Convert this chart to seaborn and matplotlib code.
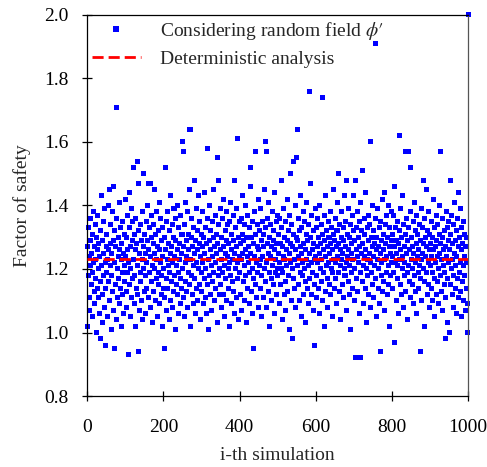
import numpy as np
import pandas as pd
import matplotlib
matplotlib.use("Agg")
import matplotlib.pyplot as plt
import seaborn as sns
from matplotlib.lines import Line2D

# ---- data (blocks of 50 simulations) ----
fos_0001_0050 = [1.27, 1.02, 1.18, 1.33, 1.24, 1.11, 1.07, 1.29, 1.36, 1.21,
                 1.15, 1.25, 1.31, 1.05, 1.19, 1.38, 1.22, 1.13, 1.27, 1.09,
                 1.34, 1.23, 1.17, 1.30, 1.00, 1.26, 1.14, 1.37, 1.20, 1.11,
                 1.28, 1.06, 1.24, 1.32, 1.16, 0.98, 1.21, 1.43, 1.12, 1.29,
                 1.03, 1.25, 1.35, 1.18, 1.08, 1.39, 1.22, 1.14, 0.96, 1.27]
fos_0051_0100 = [1.19, 1.31, 1.05, 1.23, 1.40, 1.16, 1.26, 1.45, 1.10, 1.28,
                 1.21, 1.34, 1.01, 1.18, 1.25, 1.38, 1.13, 1.29, 1.07, 1.46,
                 0.95, 1.22, 1.32, 1.15, 1.27, 1.04, 1.36, 1.71, 1.20, 1.11,
                 1.30, 1.24, 1.17, 1.41, 1.09, 1.26, 1.33, 1.14, 1.23, 1.02,
                 1.28, 1.19, 1.35, 1.12, 1.25, 1.06, 1.31, 1.21, 1.16, 1.42]
fos_0101_0150 = [1.24, 1.13, 1.30, 1.08, 1.37, 1.19, 1.26, 0.93, 1.22, 1.44,
                 1.15, 1.33, 1.05, 1.27, 1.20, 1.39, 1.11, 1.29, 1.17, 1.35,
                 1.52, 1.23, 1.09, 1.31, 1.18, 1.26, 1.02, 1.36, 1.14, 1.28,
                 1.54, 1.21, 1.12, 0.94, 1.32, 1.47, 1.25, 1.07, 1.19, 1.34,
                 1.16, 1.29, 1.10, 1.23, 1.38, 1.04, 1.50, 1.27, 1.20, 1.13]
fos_0151_0200 = [1.31, 1.18, 1.25, 1.06, 1.35, 1.22, 1.14, 1.29, 1.40, 1.47,
                 1.11, 1.26, 1.19, 1.33, 1.47, 1.08, 1.24, 1.30, 1.16, 1.37,
                 1.21, 1.03, 1.28, 1.13, 1.34, 1.20, 1.45, 1.25, 1.10, 1.31,
                 1.17, 1.38, 1.23, 1.05, 1.27, 1.15, 1.32, 1.19, 1.41, 1.09,
                 1.26, 1.22, 1.36, 1.12, 1.29, 1.18, 1.02, 1.33, 1.24, 1.14]
fos_0201_0250 = [1.20, 0.95, 1.30, 1.11, 1.26, 1.52, 1.17, 1.35, 1.07, 1.23,
                 1.38, 1.14, 1.28, 1.21, 1.04, 1.32, 1.19, 1.43, 1.25, 1.10,
                 1.27, 1.16, 1.34, 1.22, 1.08, 1.30, 1.13, 1.39, 1.24, 1.18,
                 1.01, 1.29, 1.36, 1.15, 1.21, 1.26, 1.12, 1.40, 1.19, 1.06,
                 1.33, 1.23, 1.28, 1.09, 1.17, 1.37, 1.25, 1.14, 1.31, 1.60]
fos_0251_0300 = [1.20, 1.11, 1.57, 1.27, 1.05, 1.34, 1.22, 1.16, 1.41, 1.29,
                 1.13, 1.24, 1.38, 1.08, 1.31, 1.19, 1.26, 1.45, 1.15, 1.64,
                 1.23, 1.02, 1.30, 1.18, 1.36, 1.12, 1.27, 1.21, 1.09, 1.33,
                 1.25, 1.48, 1.17, 1.29, 1.06, 1.39, 1.22, 1.14, 1.32, 1.26,
                 1.10, 1.43, 1.20, 1.28, 1.15, 1.35, 1.04, 1.24, 1.19, 1.31]
fos_0301_0350 = [1.13, 1.27, 1.22, 1.38, 1.09, 1.30, 1.17, 1.25, 1.44, 1.11,
                 1.33, 1.20, 1.06, 1.28, 1.58, 1.15, 1.36, 1.23, 1.01, 1.29,
                 1.18, 1.40, 1.26, 1.12, 1.32, 1.21, 1.07, 1.35, 1.24, 1.16,
                 1.30, 1.45, 1.19, 1.27, 1.10, 1.37, 1.22, 1.14, 1.31, 1.25,
                 1.55, 1.03, 1.28, 1.18, 1.34, 1.48, 1.20, 1.12, 1.26, 1.39]
fos_0351_0400 = [1.15, 1.23, 1.30, 1.08, 1.36, 1.19, 1.27, 1.12, 1.42, 1.21,
                 1.05, 1.32, 1.25, 1.17, 1.29, 1.38, 1.10, 1.24, 1.34, 1.20,
                 1.14, 1.28, 1.02, 1.35, 1.22, 1.18, 1.41, 1.26, 1.09, 1.31,
                 1.23, 1.16, 1.37, 1.29, 1.13, 1.25, 1.06, 1.48, 1.20, 1.33,
                 1.27, 1.11, 1.39, 1.22, 1.17, 1.61, 1.30, 1.04, 1.24, 1.35]
fos_0401_0450 = [1.19, 1.28, 1.12, 1.36, 1.23, 1.07, 1.31, 1.25, 1.43, 1.16,
                 1.29, 1.21, 1.34, 1.10, 1.26, 1.18, 1.40, 1.03, 1.30, 1.24,
                 1.14, 1.37, 1.22, 1.27, 1.09, 1.33, 1.19, 1.46, 1.25, 1.52,
                 1.13, 1.30, 1.20, 1.35, 1.06, 0.95, 1.28, 1.17, 1.24, 1.38,
                 1.57, 1.15, 1.31, 1.22, 1.11, 1.27, 1.34, 1.19, 1.42, 1.08]
fos_0451_0500 = [1.26, 1.21, 1.32, 1.14, 1.39, 1.23, 1.05, 1.29, 1.18, 1.35,
                 1.24, 1.11, 1.31, 1.27, 1.45, 1.20, 1.60, 1.16, 1.33, 1.57,
                 1.22, 1.08, 1.28, 1.36, 1.13, 1.25, 1.41, 1.19, 1.30, 1.02,
                 1.24, 1.34, 1.17, 1.27, 1.10, 1.38, 1.21, 1.29, 1.15, 1.32,
                 1.06, 1.26, 1.44, 1.19, 1.23, 1.35, 1.12, 1.28, 1.20, 1.37]
fos_0501_0550 = [1.18, 1.31, 1.25, 1.09, 1.36, 1.22, 1.15, 1.28, 1.48, 1.20,
                 1.33, 1.04, 1.27, 1.19, 1.39, 1.24, 1.12, 1.30, 1.23, 1.16,
                 1.35, 1.07, 1.26, 1.21, 1.42, 1.29, 1.13, 1.32, 1.18, 1.25,
                 1.01, 1.37, 1.50, 1.22, 1.28, 1.10, 1.34, 1.20, 1.27, 0.98,
                 1.54, 1.17, 1.31, 1.23, 1.14, 1.40, 1.26, 1.08, 1.30, 1.55]
fos_0551_0600 = [1.64, 1.21, 1.29, 1.15, 1.36, 1.24, 1.10, 1.32, 1.19, 1.27,
                 1.43, 1.05, 1.25, 1.33, 1.18, 1.22, 1.38, 1.12, 1.28, 1.20,
                 1.35, 1.16, 1.26, 1.03, 1.31, 1.23, 1.41, 1.14, 1.29, 1.21,
                 1.09, 1.34, 1.76, 1.25, 1.17, 1.30, 1.47, 1.22, 1.12, 1.37,
                 1.26, 1.19, 1.32, 1.07, 1.28, 1.23, 1.15, 0.96, 1.39, 1.24]
fos_0601_0650 = [1.18, 1.33, 1.11, 1.27, 1.22, 1.36, 1.14, 1.30, 1.25, 1.06,
                 1.40, 1.20, 1.28, 1.16, 1.34, 1.23, 1.74, 1.10, 1.31, 1.26,
                 1.19, 1.37, 1.02, 1.29, 1.24, 1.13, 1.43, 1.21, 1.32, 1.17,
                 1.27, 1.08, 1.35, 1.22, 1.30, 1.15, 1.25, 1.38, 1.12, 1.28,
                 1.20, 1.33, 1.05, 1.26, 1.19, 1.45, 1.23, 1.31, 1.14, 1.29]
fos_0651_0700 = [1.22, 1.36, 1.17, 1.27, 1.09, 1.32, 1.24, 1.41, 1.50, 1.19,
                 1.28, 1.13, 1.34, 1.21, 1.26, 1.04, 1.38, 1.23, 1.30, 1.15,
                 1.25, 1.33, 1.11, 1.29, 1.20, 1.43, 1.18, 1.27, 1.35, 1.48,
                 1.22, 1.07, 1.31, 1.24, 1.16, 1.39, 1.26, 1.12, 1.30, 1.21,
                 1.01, 1.34, 1.28, 1.19, 1.25, 1.37, 1.14, 1.23, 1.32, 1.43]
fos_0701_0750 = [1.20, 1.29, 1.10, 1.48, 0.92, 1.26, 1.33, 1.17, 1.24, 1.38,
                 1.13, 1.30, 1.22, 1.06, 1.35, 1.27, 1.19, 1.41, 0.92, 1.25,
                 1.32, 1.51, 1.16, 1.28, 1.21, 1.09, 1.36, 1.24, 1.31, 1.14,
                 1.26, 1.44, 1.20, 1.03, 1.33, 1.23, 1.18, 1.29, 1.37, 1.12,
                 1.25, 1.34, 1.60, 1.22, 1.08, 1.30, 1.19, 1.27, 1.40, 1.15]
fos_0751_0800 = [1.24, 1.32, 1.11, 1.28, 1.21, 1.91, 1.36, 1.17, 1.26, 1.05,
                 1.30, 1.23, 1.39, 1.14, 1.27, 1.20, 1.33, 1.09, 0.94, 1.25,
                 1.35, 1.18, 1.29, 1.22, 1.42, 1.13, 1.31, 1.26, 1.16, 1.44,
                 1.23, 1.07, 1.34, 1.28, 1.19, 1.37, 1.24, 1.12, 1.30, 1.21,
                 1.40, 1.15, 1.27, 1.33, 1.02, 1.25, 1.18, 1.38, 1.22, 1.29]
fos_0801_0850 = [1.14, 1.31, 1.24, 1.37, 1.19, 1.27, 1.46, 0.97, 1.22, 1.33,
                 1.10, 1.29, 1.25, 1.17, 1.35, 1.21, 1.06, 1.28, 1.62, 1.23,
                 1.32, 1.15, 1.39, 1.26, 1.12, 1.30, 1.20, 1.43, 1.24, 1.08,
                 1.34, 1.18, 1.27, 1.22, 1.57, 1.13, 1.31, 1.25, 1.36, 1.19,
                 1.04, 1.29, 1.57, 1.21, 1.33, 1.16, 1.26, 1.52, 1.11, 1.38]
fos_0851_0900 = [1.23, 1.30, 1.15, 1.27, 1.20, 1.35, 1.09, 1.25, 1.41, 1.18,
                 1.32, 1.22, 1.13, 1.28, 1.37, 1.06, 1.24, 1.31, 1.19, 1.26,
                 1.14, 1.34, 1.21, 0.94, 1.29, 1.17, 1.39, 1.23, 1.10, 1.33,
                 1.25, 1.48, 1.20, 1.28, 1.16, 1.36, 1.02, 1.24, 1.30, 1.19,
                 1.27, 1.45, 1.12, 1.32, 1.22, 1.38, 1.15, 1.26, 1.08, 1.31]
fos_0901_0950 = [1.21, 1.28, 1.14, 1.35, 1.24, 1.10, 1.30, 1.19, 1.42, 1.26,
                 1.17, 1.33, 1.05, 1.27, 1.22, 1.37, 1.12, 1.29, 1.24, 1.16,
                 1.34, 1.20, 1.09, 1.31, 1.25, 1.40, 1.18, 1.28, 1.57, 1.13,
                 1.23, 1.36, 1.07, 1.30, 1.21, 1.26, 1.15, 1.32, 1.19, 0.98,
                 1.27, 1.11, 1.38, 1.24, 1.17, 1.33, 1.03, 1.29, 1.22, 1.35]
fos_0951_1000 = [1.00, 1.26, 1.48, 1.15, 1.31, 1.20, 1.37, 1.12, 1.28, 1.23,
                 1.08, 1.34, 1.18, 1.25, 1.41, 1.14, 1.29, 1.21, 1.06, 1.32,
                 1.24, 1.17, 1.36, 1.11, 1.27, 1.44, 1.19, 1.30, 1.13, 1.22,
                 1.39, 1.05, 1.26, 1.33, 1.16, 1.28, 1.21, 1.10, 1.35, 1.24,
                 1.18, 1.31, 1.07, 1.27, 1.14, 1.22, 1.30, 1.00, 1.09, 2.00]

deterministic_fos = 1.23
x_ticks = [0, 200, 400, 600, 800, 1000]
y_ticks = [0.8, 1.0, 1.2, 1.4, 1.6, 1.8, 2.0]

fos = (fos_0001_0050 + fos_0051_0100 + fos_0101_0150 + fos_0151_0200 +
       fos_0201_0250 + fos_0251_0300 + fos_0301_0350 + fos_0351_0400 +
       fos_0401_0450 + fos_0451_0500 + fos_0501_0550 + fos_0551_0600 +
       fos_0601_0650 + fos_0651_0700 + fos_0701_0750 + fos_0751_0800 +
       fos_0801_0850 + fos_0851_0900 + fos_0901_0950 + fos_0951_1000)
df = pd.DataFrame({"sim": np.arange(1, len(fos) + 1), "fos": fos})

# ---- style ----
sns.set_style("ticks")
plt.rcParams["font.family"] = ["Liberation Serif", "DejaVu Serif"]
plt.rcParams["mathtext.fontset"] = "stix"

FS = 14
fig = plt.figure(figsize=(4.87, 4.67), dpi=100)
ax = fig.add_axes([0.179, 0.152, 0.782, 0.816])

sns.scatterplot(data=df, x="sim", y="fos", marker="s", s=13, color="#0000ff",
                edgecolor="none", linewidth=0, ax=ax, clip_on=False, zorder=2)
ax.axhline(deterministic_fos, color="#ff0000", lw=2.0, ls=(0, (4, 1.8)), zorder=3)

ax.set_xlim(0, 1000)
ax.set_ylim(0.8, 2.0)
ax.set_xticks(x_ticks)
ax.set_yticks(y_ticks)
ax.set_yticklabels([f"{v:.1f}" for v in y_ticks])
ax.tick_params(axis="both", labelsize=FS, direction="inout", length=7,
               width=0.9, color="black", labelcolor="black")
ax.tick_params(axis="x", pad=13)
ax.tick_params(axis="y", pad=10)
for sp in ax.spines.values():
    sp.set_visible(True)
    sp.set_linewidth(0.9)
    sp.set_color("black")
ax.spines["right"].set_color("#555555")

ax.set_xlabel("i-th simulation", fontsize=FS, labelpad=8)
ax.set_ylabel("Factor of safety", fontsize=FS, labelpad=9)

handles = [Line2D([], [], marker="s", ls="none", color="#0000ff", markersize=5,
                  markeredgewidth=0),
           Line2D([], [], color="#ff0000", lw=2.0, ls=(0, (4, 1.8)))]
labels = [r"Considering random field $\phi\prime$", "Deterministic analysis"]
ax.legend(handles, labels, loc="upper left", bbox_to_anchor=(0.0, 1.0),
          frameon=False, fontsize=FS, handlelength=2.5, handletextpad=1.0,
          borderpad=0.15, labelspacing=0.45, borderaxespad=0.1)

fig.savefig("out.png", dpi=100)
